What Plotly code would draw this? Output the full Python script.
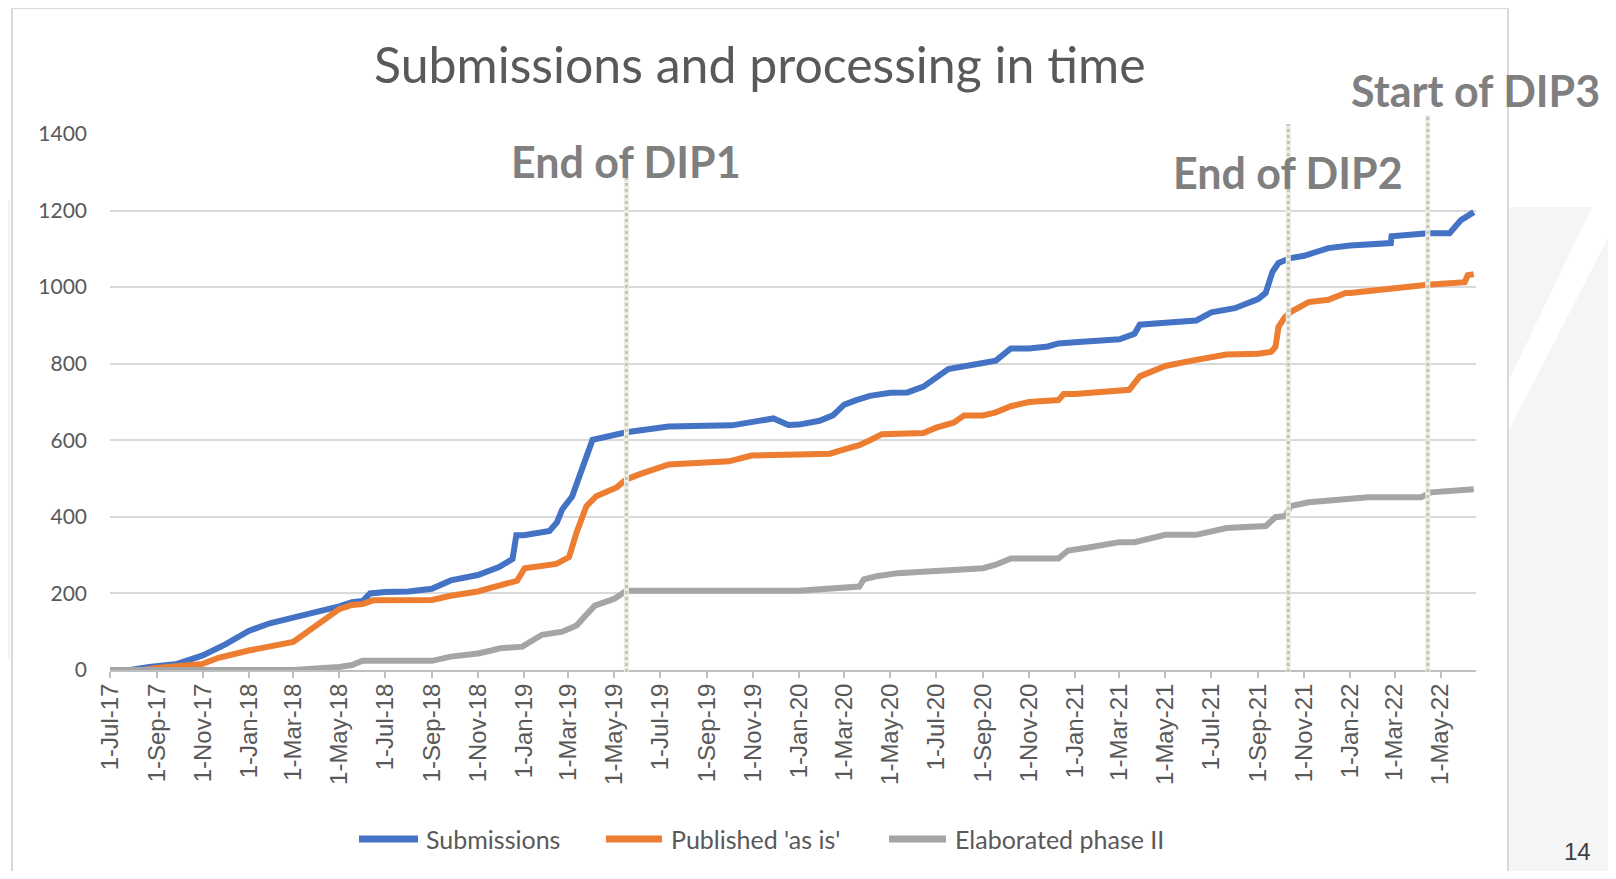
import plotly.graph_objects as go

# ---------------- data ----------------
sub_dates = ["2017-07-01","2017-07-28","2017-08-22","2017-09-01","2017-09-28","2017-11-01","2017-12-01",
             "2018-01-01","2018-01-29","2018-03-01","2018-04-01","2018-05-01","2018-05-18","2018-06-01",
             "2018-06-11","2018-07-01","2018-08-01","2018-09-01","2018-09-26","2018-11-01","2018-11-29",
             "2018-12-17","2018-12-22","2019-01-01","2019-02-04","2019-02-14","2019-02-21","2019-03-06",
             "2019-04-02","2019-05-17","2019-07-12","2019-10-04","2019-11-28","2019-12-18","2020-01-01",
             "2020-01-28","2020-02-15","2020-03-01","2020-03-17","2020-04-04","2020-05-01","2020-05-24",
             "2020-06-14","2020-07-01","2020-07-17","2020-09-01","2020-09-18","2020-10-08","2020-11-01",
             "2020-11-26","2020-12-10","2021-01-01","2021-03-01","2021-03-21","2021-03-28","2021-05-01",
             "2021-06-11","2021-07-01","2021-08-01","2021-09-01","2021-09-11","2021-09-20","2021-09-28",
             "2021-10-14","2021-11-01","2021-12-03","2022-01-01","2022-02-24","2022-02-25","2022-04-14",
             "2022-05-13","2022-05-28","2022-06-14"]
sub_vals = [0,0,8,10,16,38,67,
            102,122,137,150,166,177,180,
            200,204,205,212,234,248,269,
            290,352,352,363,386,420,453,
            601,621,636,639,657,640,641,
            651,665,693,705,716,724,725,
            740,765,786,802,808,840,840,
            845,853,856,864,878,902,907,
            913,934,945,969,985,1040,1063,
            1076,1082,1102,1109,1115,1133,1141,
            1141,1175,1196]

pub_dates = ["2017-07-01","2017-08-15","2017-09-01","2017-11-01","2017-11-22","2018-01-01","2018-03-01",
             "2018-03-18","2018-04-14","2018-05-01","2018-05-18","2018-06-01","2018-06-15","2018-07-01",
             "2018-09-01","2018-09-26","2018-11-01","2018-11-19","2018-12-01","2018-12-23","2019-01-02",
             "2019-02-13","2019-03-02","2019-03-12","2019-03-25","2019-04-07","2019-05-04","2019-05-17",
             "2019-06-03","2019-07-12","2019-09-30","2019-10-30","2020-01-01","2020-02-11","2020-03-01",
             "2020-03-21","2020-04-04","2020-04-20","2020-06-14","2020-07-01","2020-07-24","2020-08-07",
             "2020-09-01","2020-09-18","2020-10-08","2020-11-01","2020-12-10","2020-12-17","2021-01-01",
             "2021-03-01","2021-03-14","2021-03-28","2021-05-01","2021-06-05","2021-07-01","2021-07-21",
             "2021-09-01","2021-09-18","2021-09-24","2021-09-28","2021-10-06","2021-10-14","2021-11-07",
             "2021-12-03","2021-12-26","2022-01-01","2022-04-14","2022-06-02","2022-06-06","2022-06-14"]
pub_vals = [0,0,5,16,32,51,73,
            97,135,159,170,172,182,183,
            183,194,205,215,220,233,266,
            277,295,360,428,454,477,498,
            511,537,545,560,563,565,576,
            587,600,616,619,633,646,665,
            665,673,689,700,705,721,721,
            727,732,767,794,808,816,824,
            826,831,844,896,920,935,961,
            967,985,985,1006,1013,1031,1034]

ela_dates = ["2017-07-01","2018-03-01","2018-05-01","2018-05-18","2018-06-01","2018-09-01","2018-09-26",
             "2018-11-01","2018-11-19","2018-12-01","2018-12-30","2019-01-12","2019-01-25","2019-02-21",
             "2019-03-12","2019-03-20","2019-04-05","2019-05-01","2019-05-17","2020-01-01","2020-01-28",
             "2020-02-18","2020-03-21","2020-03-27","2020-04-13","2020-05-11","2020-07-01","2020-09-01",
             "2020-09-18","2020-10-08","2020-12-10","2020-12-23","2021-01-19","2021-03-01","2021-03-21",
             "2021-05-01","2021-06-11","2021-07-01","2021-07-21","2021-09-11","2021-09-24","2021-10-07",
             "2021-10-14","2021-11-07","2022-01-25","2022-04-05","2022-04-18","2022-06-14"]
ela_vals = [0,0,8,13,24,24,35,
            43,51,57,61,75,92,100,
            116,134,168,186,207,207,210,
            215,218,237,245,253,258,266,
            275,291,291,312,320,334,334,
            353,353,363,371,376,399,402,
            428,438,451,451,464,472]

series_names = ["Submissions", "Published 'as is'", "Elaborated phase II"]
series_colors = ["#4472C4", "#ED7D31", "#A5A5A5"]

milestone_labels = ["End of DIP1", "End of DIP2", "Start of DIP3"]
milestone_dates = ["2019-05-17", "2021-10-11", "2022-04-14"]

x_range = ["2017-07-01", "2022-06-17"]
y_range = [0, 1400]

# ---------------- layout geometry (pixels, in page coordinates) ----------------
OFF = 8                      # default page margin around the plot div
W_PX, H_PX = 1600, 863       # figure size
L, R, T, B = 110, 1476, 134, 670
PW, PH = R - L, B - T

def pxx(x):
    return (x - L) / PW

def pxy(y):
    return (B - y) / PH

fig = go.Figure()
for d, v, n, c in zip([sub_dates, pub_dates, ela_dates], [sub_vals, pub_vals, ela_vals],
                      series_names, series_colors):
    fig.add_trace(go.Scatter(x=d, y=v, name=n, mode="lines",
                             line=dict(color=c, width=6), showlegend=False))

shapes = []
# page background decorations
shapes.append(dict(type="rect", xref="paper", yref="paper", x0=pxx(1509), x1=pxx(1625),
                   y0=pxy(885), y1=pxy(207), fillcolor="#f5f5f5", line=dict(width=0), layer="below"))
shapes.append(dict(type="path", xref="paper", yref="paper",
                   path="M {a},{b} L {c},{d} L {e},{f} L {g},{h} Z".format(
                       a=pxx(1593), b=pxy(205), c=pxx(1625), d=pxy(205),
                       e=pxx(1509), f=pxy(430), g=pxx(1509), h=pxy(380)),
                   fillcolor="#ffffff", line=dict(width=0), layer="below"))
shapes.append(dict(type="rect", xref="paper", yref="paper", x0=pxx(0), x1=pxx(10),
                   y0=pxy(660), y1=pxy(200), fillcolor="#f4f4f4", line=dict(width=0), layer="below"))
# chart border
shapes.append(dict(type="rect", xref="paper", yref="paper", x0=pxx(12), x1=pxx(1508),
                   y0=pxy(900), y1=pxy(8), line=dict(color="#d9d9d9", width=2), layer="below"))

# milestone lines
tops = [177, 124, 115]
for md, tp in zip(milestone_dates, tops):
    shapes.append(dict(type="line", xref="x", yref="paper", x0=md, x1=md, y0=pxy(672), y1=pxy(tp),
                       line=dict(color="#eeede4", width=5), layer="above"))
    shapes.append(dict(type="line", xref="x", yref="paper", x0=md, x1=md, y0=pxy(672), y1=pxy(tp),
                       line=dict(color="#c4c4bb", width=3, dash="dot"), layer="above"))

# legend (manual)
leg_y = 839
leg_items = [(356, 421, 424), (603, 665, 669), (886, 949, 953)]
annotations = []
for (x0, x1, tx), n, c in zip(leg_items, series_names, series_colors):
    shapes.append(dict(type="line", xref="paper", yref="paper", x0=pxx(x0 + 3), x1=pxx(x1 - 3),
                       y0=pxy(leg_y), y1=pxy(leg_y), line=dict(color=c, width=7)))
    annotations.append(dict(xref="paper", yref="paper", x=pxx(tx), y=pxy(leg_y), text=n,
                            showarrow=False, xanchor="left", yanchor="middle",
                            font=dict(family="Lato", size=25, color="#595959")))

# title
annotations.append(dict(xref="paper", yref="paper", x=pxx(760), y=pxy(64),
                        text="Submissions and processing in time", showarrow=False,
                        xanchor="center", yanchor="middle",
                        font=dict(family="Lato", size=50, color="#595959")))

# milestone labels
label_pos = [(626, 161), (1288, 172), (1475, 90)]
for lab, (lx, ly) in zip(milestone_labels, label_pos):
    annotations.append(dict(xref="paper", yref="paper", x=pxx(lx), y=pxy(ly), text="<b>%s</b>" % lab,
                            showarrow=False, xanchor="center", yanchor="middle",
                            font=dict(family="Lato", size=43, color="#7f7f7f")))

# slide number
annotations.append(dict(xref="paper", yref="paper", x=pxx(1577), y=pxy(836), text="14",
                        showarrow=False, xanchor="center", yanchor="top",
                        font=dict(family="Liberation Sans", size=24, color="#404040")))

fig.update_layout(
    width=W_PX, height=H_PX,
    margin=dict(l=L - OFF, r=W_PX - (R - OFF), t=T - OFF, b=H_PX - (B - OFF), pad=0),
    paper_bgcolor="white", plot_bgcolor="white",
    shapes=shapes, annotations=annotations,
    showlegend=False,
    xaxis=dict(type="date", range=x_range, showgrid=False, zeroline=False,
               showline=True, linecolor="#bfbfbf", linewidth=2,
               ticks="outside", ticklen=6, tickcolor="#bfbfbf", tickwidth=1.5,
               tickangle=-90, tickformat="%-d-%b-%y", dtick="M2", tick0="2017-07-01",
               ticklabelstandoff=-4,
               tickfont=dict(family="Liberation Sans", size=24, color="#595959")),
    yaxis=dict(range=y_range, dtick=200, showgrid=True, gridcolor="#d9d9d9", gridwidth=2,
               zeroline=False, showline=False, ticks="", ticklabelstandoff=22,
               tickfont=dict(family="Lato", size=21, color="#595959")),
)

fig.write_html("out.html")
